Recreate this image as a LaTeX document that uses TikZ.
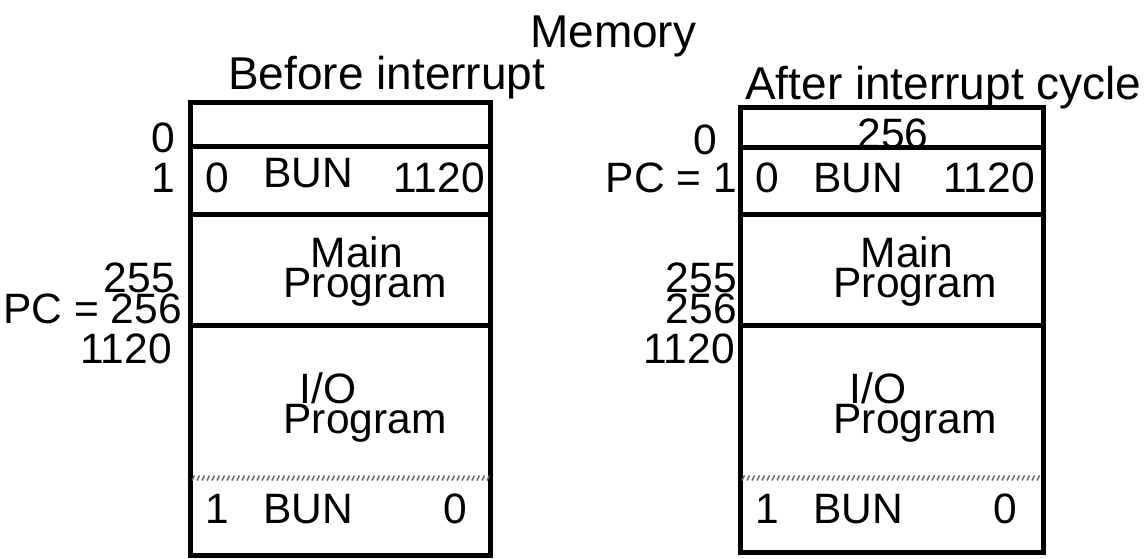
\documentclass[tikz,border=0pt]{standalone}
\usepackage{fontspec}
\setmainfont{Liberation Sans}
\tikzset{
  frame/.style={line width=5pt},
  hatch/.style={line width=1.4pt, black!60},
  txt/.style={font=\fontsize{42.5}{42.5}\selectfont, inner sep=0pt, anchor=base west},
  txtr/.style={txt, anchor=base east},
  txtc/.style={txt, anchor=base},
  ttl/.style={font=\fontsize{46}{46}\selectfont, inner sep=0pt, anchor=base west},
}
\begin{document}
\begin{tikzpicture}[x=1pt,y=-1pt]
\useasboundingbox (0,0) rectangle (1146,559);
% titles
\node[ttl] (mem) at (530,48) {Memory};
\node[ttl] (bef) at (228,90) {Before interrupt};
\node[ttl] (aft) at (745,100) {After interrupt cycle};
% ---------- left memory ----------
\draw[frame] (190,103) rectangle (490,555);
\draw[frame] (190,147) -- (490,147);
\draw[frame] (190,214) -- (490,214);
\draw[frame] (190,325) -- (490,325);
\foreach \x in {192,197,...,487} \draw[hatch] (\x,480.5) -- (\x+2.5,475.5);
\node[txtr] (la0) at (175,153) {0};
\node[txtr] (la1) at (175,193) {1};
\node[txtr] (la255) at (175,292) {255};
\node[txtr] (la256) at (182,323) {PC = 256};
\node[txtr] (la1120) at (172,363) {1120};
\node[txt] (lr1a) at (205,193) {0};
\node[txt] (lr1b) at (263,187) {BUN};
\node[txtr] (lr1c) at (485,193) {1120};
\node[txtc] (lmain) at (357,267) {Main};
\node[txtc] (lprog) at (365,297) {Program};
\node[txtc] (lio) at (328,403) {I/O};
\node[txtc] (lprog2) at (365,433) {Program};
\node[txt] (lb1) at (205,523) {1};
\node[txt] (lb2) at (263,523) {BUN};
\node[txtr] (lb3) at (467,523) {0};
% ---------- right memory ----------
\draw[frame] (740,108) rectangle (1043,552);
\draw[frame] (740,148) -- (1043,148);
\draw[frame] (740,214) -- (1043,214);
\draw[frame] (740,325) -- (1043,325);
\foreach \x in {742,747,...,1038} \draw[hatch] (\x,480.5) -- (\x+2.5,475.5);
\node[txtr] (ra0) at (717,155) {0};
\node[txtr] (ra1) at (737,193) {PC = 1};
\node[txtr] (ra255) at (737,292) {255};
\node[txtr] (ra256) at (737,323) {256};
\node[txtr] (ra1120) at (735,363) {1120};
\node[txtc] (rr0) at (893,149) {256};
\node[txt] (rr1a) at (755,193) {0};
\node[txt] (rr1b) at (813,193) {BUN};
\node[txtr] (rr1c) at (1035,193) {1120};
\node[txtc] (rmain) at (907,267) {Main};
\node[txtc] (rprog) at (915,297) {Program};
\node[txtc] (rio) at (878,403) {I/O};
\node[txtc] (rprog2) at (915,433) {Program};
\node[txt] (rb1) at (755,523) {1};
\node[txt] (rb2) at (813,523) {BUN};
\node[txtr] (rb3) at (1017,523) {0};
\end{tikzpicture}
\end{document}
